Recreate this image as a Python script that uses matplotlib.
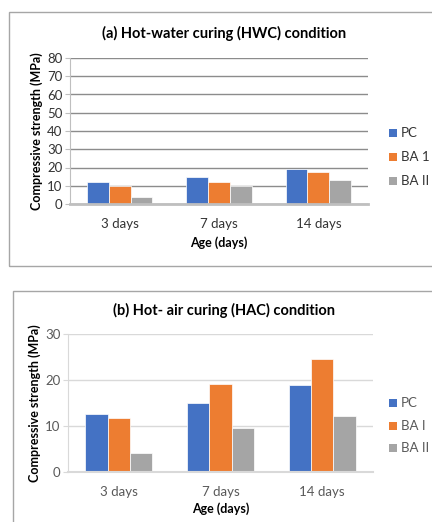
import numpy as np
import matplotlib
matplotlib.use('Agg')
import matplotlib.pyplot as plt
from matplotlib.patches import Rectangle

plt.rcParams['font.family'] = ['Lato', 'DejaVu Sans']

ages = ['3 days', '7 days', '14 days']

# (a) hot-water curing
hwc_pc = [12.0, 15.0, 19.0]
hwc_ba1 = [10.0, 12.3, 17.5]
hwc_ba2 = [4.0, 10.0, 13.0]

# (b) hot-air curing
hac_pc = [12.5, 15.0, 19.0]
hac_ba1 = [11.7, 19.2, 24.7]
hac_ba2 = [4.0, 9.6, 12.2]

colors = ['#4472C4', '#ED7D31', '#A5A5A5']

W, H = 432, 522
fig = plt.figure(figsize=(W / 100, H / 100), dpi=100)


def fx(px):
    return px / W


def fy(py):
    return 1 - py / H


# panel borders
fig.patches.append(Rectangle((fx(9), fy(266)), fx(440), fy(12) - fy(266),
                             transform=fig.transFigure, fill=False,
                             edgecolor='#A6A6A6', lw=1.0))
fig.patches.append(Rectangle((fx(13), fy(540)), fx(440), fy(291) - fy(540),
                             transform=fig.transFigure, fill=False,
                             edgecolor='#A6A6A6', lw=1.0))


def panel(rect, series, labels, ymax, step, grid_col, base_col, base_lw,
          tick_col, title, title_y, age_y, legend_y, legend_gap):
    ax = fig.add_axes(rect)
    x = np.arange(len(ages))
    w = 0.22
    for i, (vals, c) in enumerate(zip(series, colors)):
        ax.bar(x + (i - 1) * w, vals, w, color=c, edgecolor='white',
               linewidth=0.5, zorder=3)
    ax.set_xlim(-0.5, len(ages) - 0.5)
    ax.set_ylim(0, ymax)
    ax.set_yticks(np.arange(0, ymax + 1, step))
    ax.set_xticks(x)
    ax.set_xticklabels(ages)
    ax.yaxis.grid(True, color=grid_col, lw=1.0, zorder=0)
    for s in ['top', 'right']:
        ax.spines[s].set_visible(False)
    ax.spines['left'].set_color(base_col)
    ax.spines['bottom'].set_color(base_col)
    ax.spines['bottom'].set_linewidth(base_lw)
    ax.spines['bottom'].set_zorder(4)
    ax.tick_params(axis='y', length=3.5, color=base_col, labelsize=9.5,
                   labelcolor=tick_col, pad=2)
    ax.tick_params(axis='x', length=0, labelsize=9.5, labelcolor=tick_col,
                   pad=10)
    ax.set_ylabel('Compressive strength (MPa)', fontsize=9,
                  fontweight='bold', color='black', labelpad=3)
    fig.text(fx(224), fy(title_y), title, ha='center', va='center',
             fontsize=10.5, fontweight='bold', color='black')
    fig.text(fx(rect[0] * W + rect[2] * W / 2), fy(age_y), 'Age (days)',
             ha='center', va='center', fontsize=9, fontweight='bold')
    for k, (h, lab) in enumerate(zip(colors, labels)):
        yy = legend_y + k * legend_gap
        fig.patches.append(Rectangle((fx(389), fy(yy + 4)), fx(8),
                                     fy(yy - 4) - fy(yy + 4),
                                     transform=fig.transFigure,
                                     facecolor=h, edgecolor='none'))
        fig.text(fx(401), fy(yy), lab, ha='left', va='center',
                 fontsize=9.5, color=tick_col)
    return ax


panel([fx(70), fy(204), fx(298), fy(58) - fy(204)],
      [hwc_pc, hwc_ba1, hwc_ba2], ['PC', 'BA 1', 'BA II'], 80, 10,
      '#8C8C8C', '#BFBFBF', 2.0, '#333333',
      '(a) Hot-water curing (HWC) condition', 33, 243, 133, 24)

panel([fx(68), fy(471.7), fx(305), fy(334.3) - fy(471.7)],
      [hac_pc, hac_ba1, hac_ba2], ['PC', 'BA I', 'BA II'], 30, 10,
      '#D9D9D9', '#D9D9D9', 1.5, '#595959',
      '(b) Hot- air curing (HAC) condition', 310, 509, 403, 22.5)

fig.savefig('out.png', dpi=100)
